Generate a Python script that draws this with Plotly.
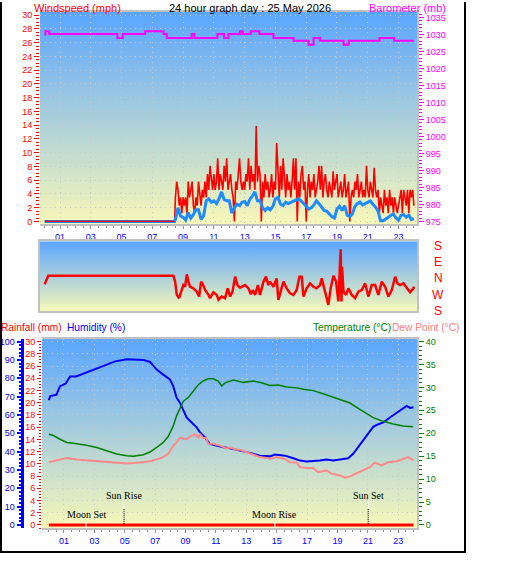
import base64
import numpy as np
import plotly.graph_objects as go

W, H = 529, 563
SANS = "Liberation Sans, Arial, sans-serif"
SERIF = "Liberation Serif, Times New Roman, serif"

# ---------------- data ----------------
hour_ticks = [1, 3, 5, 7, 9, 11, 13, 15, 17, 19, 21, 23]
hour_labels = ["01", "03", "05", "07", "09", "11", "13", "15", "17", "19", "21", "23"]

calm_hours = [0.0, 8.45]
calm_mph = [0.0, 0.0]

GUST_START = 8.5
GUST_STEP_H = 5 / 60
gust_mph = [
    3.5, 5.8, 4.6, 2.3, 3.5, 1.2,
    3.5, 2.3, 3.5, 1.0, 5.8, 3.5, 4.6, 5.8, 2.3, 1.2, 3.5, 2.3,
    5.8, 3.5, 2.3, 4.6, 3.5, 5.8, 3.5, 6.9, 4.6, 8.1, 5.8, 4.6,
    6.9, 4.6, 5.8, 9.2, 4.6, 6.9, 5.8, 4.6, 8.1, 5.8, 9.2, 4.6,
    5.8, 6.9, 4.6, 3.5, 0.0, 5.8, 4.6, 6.9, 9.2, 5.8, 4.6, 5.8,
    4.6, 6.9, 5.8, 9.2, 4.6, 8.1, 5.8, 6.9, 4.6, 13.9, 5.8, 8.1,
    6.9, 0.0, 5.8, 3.5, 6.9, 4.6, 5.8, 3.5, 4.6, 6.9, 3.5, 5.8,
    4.6, 11.4, 5.8, 3.5, 8.1, 4.6, 9.2, 5.8, 3.5, 6.9, 4.6, 5.8,
    3.5, 5.8, 9.2, 4.6, 9.2, 0.0, 5.8, 3.5, 6.9, 8.1, 4.6, 5.8,
    0.0, 4.6, 6.9, 3.5, 5.8, 4.6, 6.9, 3.5, 4.6, 5.8, 8.1, 4.6,
    8.1, 3.5, 5.8, 6.9, 4.6, 3.5, 5.8, 4.6, 3.5, 7.3, 4.6, 5.8,
    6.9, 3.5, 4.6, 5.8, 3.5, 4.6, 6.9, 3.5, 4.6, 5.8, 0.0, 3.5,
    4.6, 3.5, 5.8, 4.6, 6.9, 3.5, 4.6, 5.8, 3.5, 4.6, 3.5, 8.1,
    4.6, 3.5, 5.8, 4.6, 3.5, 7.8, 4.6, 3.5, 4.6, 1.2, 3.5, 2.3,
    1.2, 4.6, 2.3, 3.5, 1.2, 4.6, 2.3, 3.5, 1.2, 3.5, 2.3, 1.2,
    2.3, 3.5, 4.6, 1.2, 4.6, 3.5, 2.3, 4.6, 1.2, 4.6, 3.5, 4.6,
    2.3,
]

AVG_START = 8.5
AVG_STEP_H = 10 / 60
avg_mph = [
    0.3, 2.0, 0.8,
    0.6, 0.2, 1.3, 0.5, 1.0, 1.7,
    1.7, 0.3, 0.8, 3.0, 3.3, 2.8,
    3.0, 2.6, 3.3, 4.3, 3.2, 3.0,
    3.0, 1.2, 2.0, 2.5, 2.3, 2.8,
    2.9, 2.3, 3.2, 3.7, 4.3, 3.0,
    3.0, 2.0, 1.6, 2.0, 1.7, 2.2,
    3.3, 3.5, 2.5, 2.3, 2.8, 2.6,
    2.8, 3.0, 3.2, 3.3, 3.0, 2.6,
    2.3, 1.8, 2.0, 2.4, 3.0, 2.6,
    2.1, 1.6, 1.5, 1.1, 0.7, 0.5,
    1.8, 2.2, 1.6, 2.3, 0.9, 0.7,
    1.1, 2.2, 2.6, 2.8, 2.4, 2.6,
    2.8, 3.0, 2.5, 2.1, 1.5, 0.1,
    0.1, 0.3, 0.6, 0.9, 1.1, 0.5,
    0.2, 0.9, 1.0, 0.6, 0.9, 0.3,
    0.4,
]

baro_hours = [0.0, 0.05, 0.3, 4.73, 5.08, 6.53, 7.72, 7.94, 9.56, 9.73, 11.23, 11.66,
              11.95, 12.7, 12.88, 13.4, 13.96, 14.87, 16.17, 17.15, 17.48, 17.91,
              19.43, 19.76, 21.77, 22.72, 24.0]
baro_mb = [1030.0, 1031.0, 1030.2, 1029.0, 1030.2, 1031.0, 1030.2, 1029.0, 1030.2, 1029.0,
           1030.2, 1029.0, 1030.2, 1031.0, 1030.2, 1031.0, 1030.2, 1029.0, 1028.2, 1027.0,
           1029.0, 1028.2, 1027.0, 1028.2, 1029.0, 1028.2, 1028.2]

dir_hours = [0.00, 0.09, 0.24, 8.37, 8.48, 8.59, 8.74, 8.91, 9.02, 9.13, 9.24, 9.35, 9.45,
             9.67, 9.89, 10.04, 10.17, 10.28, 10.43, 10.65, 10.75, 10.97, 11.19, 11.30,
             11.51, 11.73, 11.90, 12.06, 12.21, 12.38, 12.53, 12.70, 13.03, 13.25, 13.40,
             13.53, 13.68, 13.86, 14.00, 14.22, 14.39, 14.54, 14.65, 14.87, 15.08, 15.19,
             15.30, 15.52, 15.73, 15.95, 16.17, 16.38, 16.56, 16.71, 16.82, 17.03, 17.25,
             17.47, 17.68, 17.90, 18.01, 18.23, 18.44, 18.59, 18.77, 18.94, 19.09, 19.24,
             19.29, 19.33, 19.42, 19.59, 19.74, 19.96, 20.18, 20.39, 20.61, 20.83, 21.04,
             21.26, 21.48, 21.69, 21.91, 22.13, 22.34, 22.56, 22.78, 22.93, 23.10, 23.32,
             23.54, 23.75, 23.97, 24.00]
dir_deg = [327, 342, 14, 14, 342, 269, 251, 296, 323, 314, 22, 342, 314,
           305, 287, 260, 342, 327, 296, 269, 251, 283, 269, 242,
           260, 251, 305, 260, 287, 9, 323, 309, 323, 305, 272,
           296, 269, 323, 269, 342, 9, 323, 342, 314, 0, 242,
           278, 342, 305, 278, 269, 296, 9, 9, 260, 305, 332,
           314, 305, 323, 0, 278, 214, 305, 14, 342, 233, 160,
           233, 63, 287, 269, 305, 269, 251, 287, 296, 332, 260,
           323, 323, 269, 342, 314, 260, 296, 9, 332, 323, 332,
           305, 283, 305, 314]

hum_hours = [0.0, 0.1, 0.5, 0.74, 1.1, 1.4, 1.8, 2.27, 2.8, 3.37, 3.9, 4.36, 5.12, 5.8,
             6.22, 6.66, 7.1, 7.53, 7.97, 8.19, 8.41, 8.63, 8.85, 9.07, 9.4, 9.73, 9.95,
             10.28, 10.6, 11.05, 11.48, 11.92, 12.36, 12.8, 13.24, 13.9, 14.55, 14.88,
             15.54, 16.09, 16.53, 16.97, 17.4, 17.84, 18.28, 18.72, 19.16, 19.7, 20.03,
             20.36, 20.69, 21.02, 21.35, 21.57, 22.01, 22.45, 22.89, 23.22, 23.55, 23.78, 24.0]
hum_pct = [68.0, 70.3, 71.0, 75.7, 77.0, 81.0, 81.0, 82.5, 84.0, 86.0, 87.4, 89.2, 90.4, 90.4,
           90.0, 88.9, 84.7, 82.0, 79.3, 75.7, 69.4, 66.7, 62.2, 58.6, 55.9, 53.2, 50.5,
           47.8, 44.2, 43.2, 42.4, 41.8, 41.1, 40.0, 39.3, 37.8, 37.4, 38.4,
           37.8, 36.4, 35.1, 34.6, 34.8, 35.1, 35.7, 35.1, 35.7, 36.4, 38.8,
           42.4, 45.9, 50.1, 53.5, 54.5, 55.9, 58.6, 61.3, 63.1, 64.9, 63.8, 64.2]

temp_hours = [0.0, 0.3, 0.74, 1.18, 1.84, 2.49, 3.15, 3.81, 4.47, 5.12, 5.56, 6.22, 6.66,
              7.1, 7.53, 7.86, 8.19, 8.41, 8.63, 8.85, 9.18, 9.51, 9.84, 10.16, 10.49,
              10.82, 11.15, 11.38, 11.6, 12.14, 12.8, 13.46, 14.0, 14.55, 15.1, 15.65,
              16.31, 16.75, 17.41, 18.06, 18.5, 19.16, 19.82, 20.47, 20.91, 21.35, 22.01,
              22.67, 23.32, 23.98]
temp_c = [19.8, 19.5, 18.7, 18.0, 17.7, 17.4, 16.9, 16.2, 15.5, 15.1, 15.0, 15.3, 15.9,
          16.9, 18.0, 19.3, 21.6, 23.8, 25.6, 27.0, 27.8, 29.2, 30.6, 31.4, 31.9,
          31.9, 31.4, 30.3, 31.0, 31.6, 31.1, 31.4, 31.0, 30.4, 30.5, 30.1,
          29.9, 29.6, 29.3, 28.6, 28.1, 27.4, 26.6, 25.2, 24.3, 23.4, 22.6,
          22.0, 21.6, 21.4]

dew_hours = [0.0, 0.3, 1.18, 1.84, 2.49, 3.37, 4.25, 5.12, 6.0, 6.66, 7.1, 7.53, 7.86, 8.19,
             8.41, 8.63, 8.85, 9.07, 9.4, 9.62, 9.84, 9.95, 10.16, 10.38, 10.49, 10.82,
             11.26, 11.7, 11.92, 12.36, 12.58, 13.02, 13.24, 13.68, 13.9, 14.34, 14.55,
             15.0, 15.21, 15.54, 15.87, 16.31, 16.53, 16.97, 17.4, 17.73, 18.28, 18.6,
             19.16, 19.49, 19.82, 20.25, 20.69, 21.13, 21.46, 21.9, 22.34, 22.89, 23.32,
             23.65, 24.0]
dew_c = [13.7, 13.9, 14.6, 14.3, 14.1, 13.9, 13.7, 13.4, 13.6, 13.9, 14.3, 14.8, 15.5, 17.3,
         18.0, 19.1, 18.8, 18.7, 19.5, 19.8, 19.1, 19.8, 19.0, 18.9, 17.7, 17.7,
         17.3, 16.7, 16.9, 16.4, 16.4, 15.9, 15.7, 15.1, 14.8, 14.6, 14.4,
         14.8, 14.6, 14.4, 13.7, 13.6, 12.6, 12.4, 12.4, 11.5, 11.9, 11.2,
         10.8, 10.3, 10.6, 11.2, 11.9, 12.6, 13.6, 13.0, 13.7, 13.9, 14.4,
         14.8, 14.1]

rain_hours = [0.0, 24.0]
rain_mm = [0.0, 0.0]

SUN_RISE = 4.95
SUN_SET = 21.02
MOON_SET = 2.45
MOON_RISE = 14.88

dir_labels = ["S", "E", "N", "W", "S"]
dir_label_vals = [180, 90, 0, -90, -180]

# ---------------- helpers ----------------
def px(x):
    return x / W


def py(y):
    return 1 - y / H


def gradient_uri(top, bottom):
    svg = ("<svg xmlns='http://www.w3.org/2000/svg' width='4' height='100' viewBox='0 0 4 100' "
           "preserveAspectRatio='none'><defs><linearGradient id='g' x1='0' y1='0' x2='0' y2='1'>"
           f"<stop offset='0' stop-color='{top}'/><stop offset='1' stop-color='{bottom}'/>"
           "</linearGradient></defs><rect x='0' y='0' width='4' height='100' fill='url(#g)'/></svg>")
    return "data:image/svg+xml;base64," + base64.b64encode(svg.encode()).decode()


GTOP, GBOT = "rgb(90,165,255)", "rgb(248,248,184)"

top_x = [px(40), px(417)]
top_y = [py(224), py(10)]
mid_x = [px(40), px(417)]
mid_y = [py(311.6), py(241)]
bot_x = [px(42), px(417)]
bot_y = [py(530), py(339.5)]

gust_hours = list(np.round(GUST_START + np.arange(len(gust_mph)) * GUST_STEP_H, 4))
avg_hours = list(np.round(AVG_START + np.arange(len(avg_mph)) * AVG_STEP_H, 4))
dir_plot = [d if d <= 180 else d - 360 for d in dir_deg]

fig = go.Figure()
fig.add_trace(go.Scatter(x=calm_hours[-1:] + gust_hours, y=calm_mph[-1:] + gust_mph, mode="lines",
                         line=dict(color="#ff0000", width=1.6), xaxis="x", yaxis="y"))
fig.add_trace(go.Scatter(x=calm_hours + avg_hours, y=calm_mph + avg_mph, mode="lines",
                         line=dict(color="#1e8cff", width=3), xaxis="x", yaxis="y"))
fig.add_trace(go.Scatter(x=calm_hours, y=calm_mph, mode="lines",
                         line=dict(color="#ff0000", width=1.2), xaxis="x", yaxis="y"))
fig.add_trace(go.Scatter(x=baro_hours, y=baro_mb, mode="lines", line_shape="hv",
                         line=dict(color="#ff00ff", width=2), xaxis="x", yaxis="y2"))
fig.add_trace(go.Scatter(x=dir_hours, y=dir_plot, mode="lines",
                         line=dict(color="#ff0000", width=2.5), xaxis="x2", yaxis="y3"))
fig.add_trace(go.Scatter(x=rain_hours, y=rain_mm, mode="lines",
                         line=dict(color="#ff0000", width=3), xaxis="x3", yaxis="y4"))
fig.add_trace(go.Scatter(x=hum_hours, y=hum_pct, mode="lines",
                         line=dict(color="#0000ff", width=2), xaxis="x3", yaxis="y5"))
fig.add_trace(go.Scatter(x=dew_hours, y=dew_c, mode="lines",
                         line=dict(color="#ff8888", width=2), xaxis="x3", yaxis="y6"))
fig.add_trace(go.Scatter(x=temp_hours, y=temp_c, mode="lines",
                         line=dict(color="#008000", width=1.5), xaxis="x3", yaxis="y6"))

GRID = dict(showgrid=True, gridcolor="#c8c8c8", gridwidth=1, griddash="1px,4px")
XTICK = dict(tickmode="array", tickvals=hour_ticks, ticktext=hour_labels,
             tickfont=dict(family=SANS, size=9, color="#0000ff"),
             ticks="outside", ticklen=3, tickcolor="#909090",
             minor=dict(dtick=0.5, tick0=0, ticks="outside", ticklen=2, tickcolor="#909090", showgrid=False),
             showline=True, mirror=True, linecolor="#c0c0c0", linewidth=2, zeroline=False)

fig.update_layout(
    width=W, height=H, margin=dict(l=0, r=0, t=0, b=0), showlegend=False,
    paper_bgcolor="white", plot_bgcolor="rgba(0,0,0,0)",
    font=dict(family=SANS, size=9),
    xaxis=dict(domain=top_x, range=[-0.3, 24.2], anchor="y", **XTICK, **GRID),
    yaxis=dict(domain=top_y, range=[-0.43, 30.48], anchor="x", side="left",
               tick0=0, dtick=2, tickfont=dict(family=SANS, size=9, color="#ff0000"),
               ticks="outside", ticklen=5, tickcolor="#ff0000",
               minor=dict(dtick=0.5, ticks="outside", ticklen=3, tickcolor="#ff0000", showgrid=False),
               showline=False, zeroline=False, **GRID),
    yaxis2=dict(overlaying="y", side="right", anchor="x", range=[974.12, 1036.66],
                tick0=975, dtick=5, tickfont=dict(family=SANS, size=9, color="#ff00ff"),
                ticks="outside", ticklen=5, tickcolor="#ff00ff",
                minor=dict(dtick=1, ticks="outside", ticklen=3, tickcolor="#ff00ff", showgrid=False),
                showline=True, linecolor="#c0c0c0", linewidth=2, showgrid=False, zeroline=False),
    xaxis2=dict(domain=mid_x, range=[-0.3, 24.2], anchor="y3", showticklabels=False, ticks="",
                showline=True, mirror=True, linecolor="#c0c0c0", linewidth=2, showgrid=False, zeroline=False),
    yaxis3=dict(domain=mid_y, range=[-181.6, 203.5], anchor="x2", showticklabels=False, ticks="",
                showline=True, mirror=True, linecolor="#c0c0c0", linewidth=2, showgrid=False, zeroline=False),
    xaxis3=dict(domain=bot_x, range=[-0.4475, 24.232], anchor="y4", **XTICK, **GRID),
    yaxis4=dict(domain=bot_y, range=[-0.536, 30.406], anchor="x3", side="left",
                tick0=0, dtick=2, tickfont=dict(family=SANS, size=9, color="#ff0000"),
                ticks="outside", ticklen=4, tickcolor="#ff0000",
                minor=dict(dtick=0.5, ticks="outside", ticklen=2, tickcolor="#ff0000", showgrid=False),
                showline=False, zeroline=False, **GRID),
    yaxis5=dict(overlaying="y4", anchor="free", position=px(21.5), side="left",
                range=[-1.787, 101.354], tick0=0, dtick=10,
                tickfont=dict(family=SANS, size=9, color="#0000dd"),
                ticks="outside", ticklen=4, tickcolor="#0000ff", tickwidth=2,
                minor=dict(dtick=2, ticks="outside", ticklen=2, tickcolor="#0000ff", showgrid=False),
                showline=True, linecolor="#0000ff", linewidth=3, showgrid=False, zeroline=False),
    yaxis6=dict(overlaying="y4", side="right", anchor="x3", range=[-0.715, 40.541],
                tick0=0, dtick=5, tickfont=dict(family=SANS, size=9, color="#008000"),
                ticks="outside", ticklen=5, tickcolor="#008000",
                minor=dict(dtick=1, ticks="outside", ticklen=3, tickcolor="#008000", showgrid=False),
                showline=True, linecolor="#c0c0c0", linewidth=2, showgrid=False, zeroline=False),
)

images = []
for dx, dy in [(top_x, top_y), (mid_x, mid_y), (bot_x, bot_y)]:
    images.append(dict(source=gradient_uri(GTOP, GBOT), xref="paper", yref="paper",
                       x=dx[0], y=dy[1], sizex=dx[1] - dx[0], sizey=dy[1] - dy[0],
                       sizing="stretch", xanchor="left", yanchor="top", layer="below"))
fig.update_layout(images=images)

ann = []


def label(text, x, y, color, size=11, xanchor="left", family=SANS, xref="paper"):
    ann.append(dict(text=text, x=x, y=y, xref=xref, yref="paper", xanchor=xanchor, yanchor="middle",
                    showarrow=False, font=dict(family=family, size=size, color=color)))


label("Windspeed (mph)", px(32), py(6), "#ff0000")
label("24 hour graph day : 25 May 2026", px(250), py(6), "#000000", xanchor="center")
label("Barometer (mb)", px(407), py(6), "#ff00ff", xanchor="center")
label("Rainfall (mm)", px(-1), py(327.5), "#ff0000", size=10.2)
label("Humidity (%)", px(65), py(327.5), "#0000ff", size=10.2)
label("Temperature (°C)", px(393), py(327.5), "#008000", size=10.2, xanchor="right")
label("Dew Point (°C)", px(390), py(327.5), "#ff8080", size=10.2)

for t, v in zip(dir_labels, dir_label_vals):
    ann.append(dict(text=t, x=px(438), y=v, xref="paper", yref="y3", xanchor="center", yanchor="middle",
                    showarrow=False, font=dict(family=SANS, size=12, color="#ff0000")))

label("Sun Rise", SUN_RISE, py(497.5), "#000000", size=10, xanchor="center", family=SERIF, xref="x3")
label("Sun Set", SUN_SET, py(497.5), "#000000", size=10, xanchor="center", family=SERIF, xref="x3")
label("Moon Set", MOON_SET, py(516.5), "#000000", size=10, xanchor="center", family=SERIF, xref="x3")
label("Moon Rise", MOON_RISE, py(516.5), "#000000", size=10, xanchor="center", family=SERIF, xref="x3")
fig.update_layout(annotations=ann)

shapes = []
for h in (SUN_RISE, SUN_SET):
    shapes.append(dict(type="line", xref="x3", yref="paper", x0=h, x1=h, y0=py(510), y1=py(503),
                       line=dict(color="white", width=1)))
    shapes.append(dict(type="line", xref="x3", yref="paper", x0=h, x1=h, y0=py(526), y1=py(510),
                       line=dict(color="black", width=1, dash="1px,1px")))
for h in (MOON_SET, MOON_RISE):
    shapes.append(dict(type="line", xref="x3", yref="paper", x0=h, x1=h, y0=py(529), y1=py(524),
                       line=dict(color="white", width=1)))
# outer frame
shapes.append(dict(type="line", xref="paper", yref="paper", x0=px(1), x1=px(1), y0=py(555), y1=py(0),
                   line=dict(color="black", width=2)))
shapes.append(dict(type="line", xref="paper", yref="paper", x0=px(465), x1=px(465), y0=py(555), y1=py(0),
                   line=dict(color="black", width=2)))
shapes.append(dict(type="line", xref="paper", yref="paper", x0=px(0), x1=px(466), y0=py(554), y1=py(554),
                   line=dict(color="black", width=2)))
fig.update_layout(shapes=shapes)

fig.write_html("out.html")
